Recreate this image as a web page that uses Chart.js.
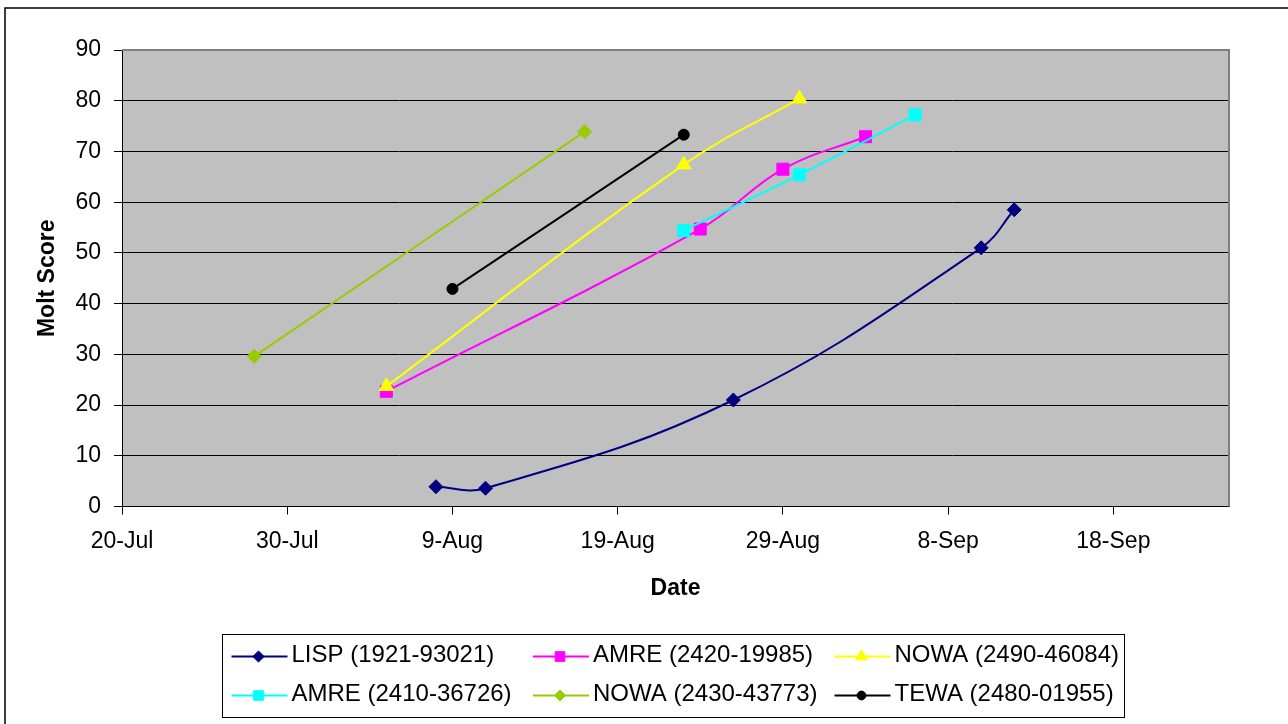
<!DOCTYPE html>
<html>
<head>
<meta charset="utf-8">
<title>Molt Score by Date</title>
<script src="https://cdn.jsdelivr.net/npm/chart.js@4.4.1/dist/chart.umd.min.js"></script>
<style>
  html, body { margin: 0; padding: 0; background: #fff; overflow: hidden; }
  #wrap { width: 1288px; height: 724px; position: relative; }
</style>
</head>
<body>
<div id="wrap"><canvas id="chart" width="1288" height="724"></canvas></div>
<script>
// ---- data ----
const axisStart = '20-Jul';
const axisEnd = '25-Sep';
const tickLabels = ['20-Jul', '30-Jul', '9-Aug', '19-Aug', '29-Aug', '8-Sep', '18-Sep'];
const yTicks = [0, 10, 20, 30, 40, 50, 60, 70, 80, 90];

const seriesNames = [
  'LISP (1921-93021)', 'AMRE (2420-19985)', 'NOWA (2490-46084)',
  'AMRE (2410-36726)', 'NOWA (2430-43773)', 'TEWA (2480-01955)'
];

const lispDates = ['8-Aug', '11-Aug', '26-Aug', '10-Sep', '12-Sep'];
const lispScores = [3.9, 3.6, 21.0, 51.0, 58.5];

const amre2420Dates = ['5-Aug', '24-Aug', '29-Aug', '3-Sep'];
const amre2420Scores = [22.7, 54.7, 66.5, 72.9];

const nowa2490Dates = ['5-Aug', '23-Aug', '30-Aug'];
const nowa2490Scores = [23.7, 67.4, 80.4];

const amre2410Dates = ['23-Aug', '30-Aug', '6-Sep'];
const amre2410Scores = [54.4, 65.4, 77.2];

const nowa2430Dates = ['28-Jul', '17-Aug'];
const nowa2430Scores = [29.6, 73.9];

const tewaDates = ['9-Aug', '23-Aug'];
const tewaScores = [42.9, 73.3];

// ---- helpers ----
const MONTHS = ['Jan','Feb','Mar','Apr','May','Jun','Jul','Aug','Sep','Oct','Nov','Dec'];
const DAY_MS = 86400000;
function toUTC(label) {
  const [d, m] = label.split('-');
  return Date.UTC(2000, MONTHS.indexOf(m), +d);
}
const originMs = toUTC(axisStart);
function dayNumber(label) { return Math.round((toUTC(label) - originMs) / DAY_MS); }
function dayLabel(n) {
  const dt = new Date(originMs + n * DAY_MS);
  return dt.getUTCDate() + '-' + MONTHS[dt.getUTCMonth()];
}
function points(dates, scores) {
  return dates.map((d, i) => ({ x: dayNumber(d), y: scores[i] }));
}

const FONT = '"Liberation Sans", Arial, Helvetica, sans-serif';

const styles = [
  { color: '#000080', pointStyle: 'rectRot', radius: 7 },
  { color: '#FF00FF', pointStyle: 'rect', radius: 8.5 },
  { color: '#FFFF00', pointStyle: 'triangle', radius: 8.5 },
  { color: '#00FFFF', pointStyle: 'rect', radius: 8.5 },
  { color: '#99CC00', pointStyle: 'rectRot', radius: 7 },
  { color: '#000000', pointStyle: 'circle', radius: 5.5 }
];
const seriesData = [
  points(lispDates, lispScores),
  points(amre2420Dates, amre2420Scores),
  points(nowa2490Dates, nowa2490Scores),
  points(amre2410Dates, amre2410Scores),
  points(nowa2430Dates, nowa2430Scores),
  points(tewaDates, tewaScores)
];

const datasets = seriesNames.map((name, i) => ({
  label: name,
  data: seriesData[i],
  borderColor: styles[i].color,
  backgroundColor: styles[i].color,
  borderWidth: 2,
  pointStyle: styles[i].pointStyle,
  pointRadius: styles[i].radius,
  pointHoverRadius: styles[i].radius,
  pointBorderWidth: 1,
  pointBackgroundColor: styles[i].color,
  pointBorderColor: styles[i].color,
  tension: 0.4,
  order: -i
}));

// grey plot background, plot frame, outer frame
const framePlugin = {
  id: 'frames',
  beforeDraw(chart) {
    const { ctx, chartArea: a } = chart;
    ctx.save();
    ctx.fillStyle = '#fff';
    ctx.fillRect(0, 0, chart.width, chart.height);
    ctx.fillStyle = '#C0C0C0';
    ctx.fillRect(a.left, a.top, a.right - a.left, a.bottom - a.top);
    ctx.strokeStyle = '#000';
    ctx.lineWidth = 1.5;
    ctx.strokeRect(5, 8, chart.width + 20, chart.height + 20);
    ctx.restore();
  },
  afterDatasetsDraw(chart) {
    const { ctx, chartArea: a } = chart;
    ctx.save();
    ctx.strokeStyle = '#808080';
    ctx.lineWidth = 2;
    ctx.beginPath();
    ctx.moveTo(a.left, a.top);
    ctx.lineTo(a.right, a.top);
    ctx.lineTo(a.right, a.bottom);
    ctx.stroke();
    ctx.restore();
  }
};

// boxed legend laid out in a 3-column grid
const gridLegendPlugin = {
  id: 'gridLegend',
  afterDraw(chart) {
    const { ctx } = chart;
    const box = { left: 222.5, top: 634.5, right: 1124.5, bottom: 717.5 };
    const colX = [231.5, 533, 834.5];
    const rowY = [656.5, 695.5];
    ctx.save();
    ctx.strokeStyle = '#000';
    ctx.lineWidth = 1;
    ctx.strokeRect(box.left, box.top, box.right - box.left, box.bottom - box.top);
    chart.data.datasets.forEach((ds, i) => {
      const x = colX[i % 3];
      const y = rowY[Math.floor(i / 3)];
      ctx.strokeStyle = ds.borderColor;
      ctx.lineWidth = 2;
      ctx.beginPath();
      ctx.moveTo(x, y);
      ctx.lineTo(x + 56, y);
      ctx.stroke();
      ctx.fillStyle = ds.pointBackgroundColor;
      ctx.strokeStyle = ds.pointBorderColor;
      ctx.lineWidth = 1;
      Chart.helpers.drawPoint(ctx, {
        pointStyle: ds.pointStyle,
        radius: ds.pointRadius * 0.8,
        rotation: 0,
        borderWidth: 1
      }, x + 27, y);
      ctx.fillStyle = '#000';
      ctx.font = '24px ' + FONT;
      ctx.textAlign = 'left';
      ctx.textBaseline = 'middle';
      ctx.fillText(ds.label, x + 60, y - 1);
    });
    ctx.restore();
  }
};

Chart.defaults.color = '#000';
Chart.defaults.font.family = FONT;

new Chart(document.getElementById('chart'), {
  type: 'line',
  data: { datasets },
  options: {
    responsive: false,
    animation: false,
    devicePixelRatio: 1,
    layout: { padding: { left: 0, top: 50, right: 59, bottom: 117.5 } },
    plugins: {
      legend: { display: false },
      tooltip: { enabled: false },
      title: { display: false }
    },
    scales: {
      x: {
        type: 'linear',
        min: dayNumber(axisStart),
        max: dayNumber(axisEnd),
        offset: false,
        afterFit(scale) { scale.height = 100; },
        afterBuildTicks(scale) {
          scale.ticks = tickLabels.map(l => ({ value: dayNumber(l) }));
        },
        ticks: {
          autoSkip: false,
          maxRotation: 0,
          padding: 13,
          font: { size: 23 },
          callback: (v) => dayLabel(v)
        },
        grid: {
          drawOnChartArea: false,
          drawTicks: true,
          tickLength: 8,
          color: '#000',
          lineWidth: 1
        },
        border: { display: true, color: '#000', width: 1 },
        title: {
          display: true,
          text: 'Date',
          font: { size: 23, weight: 'bold' },
          padding: { top: 0, bottom: 3.7 }
        }
      },
      y: {
        min: 0,
        max: 90,
        afterFit(scale) { scale.width = 122; },
        afterBuildTicks(scale) {
          scale.ticks = yTicks.map(v => ({ value: v }));
        },
        ticks: {
          padding: 13,
          font: { size: 23 },
          callback: (v) => String(v)
        },
        grid: {
          drawOnChartArea: true,
          drawTicks: true,
          tickLength: 8,
          color: '#000',
          lineWidth: 1
        },
        border: { display: true, color: '#000', width: 1 },
        title: {
          display: true,
          text: 'Molt Score',
          font: { size: 23, weight: 'bold' },
          padding: { top: 34, bottom: 0 }
        }
      }
    }
  },
  plugins: [framePlugin, gridLegendPlugin]
});
</script>
</body>
</html>
